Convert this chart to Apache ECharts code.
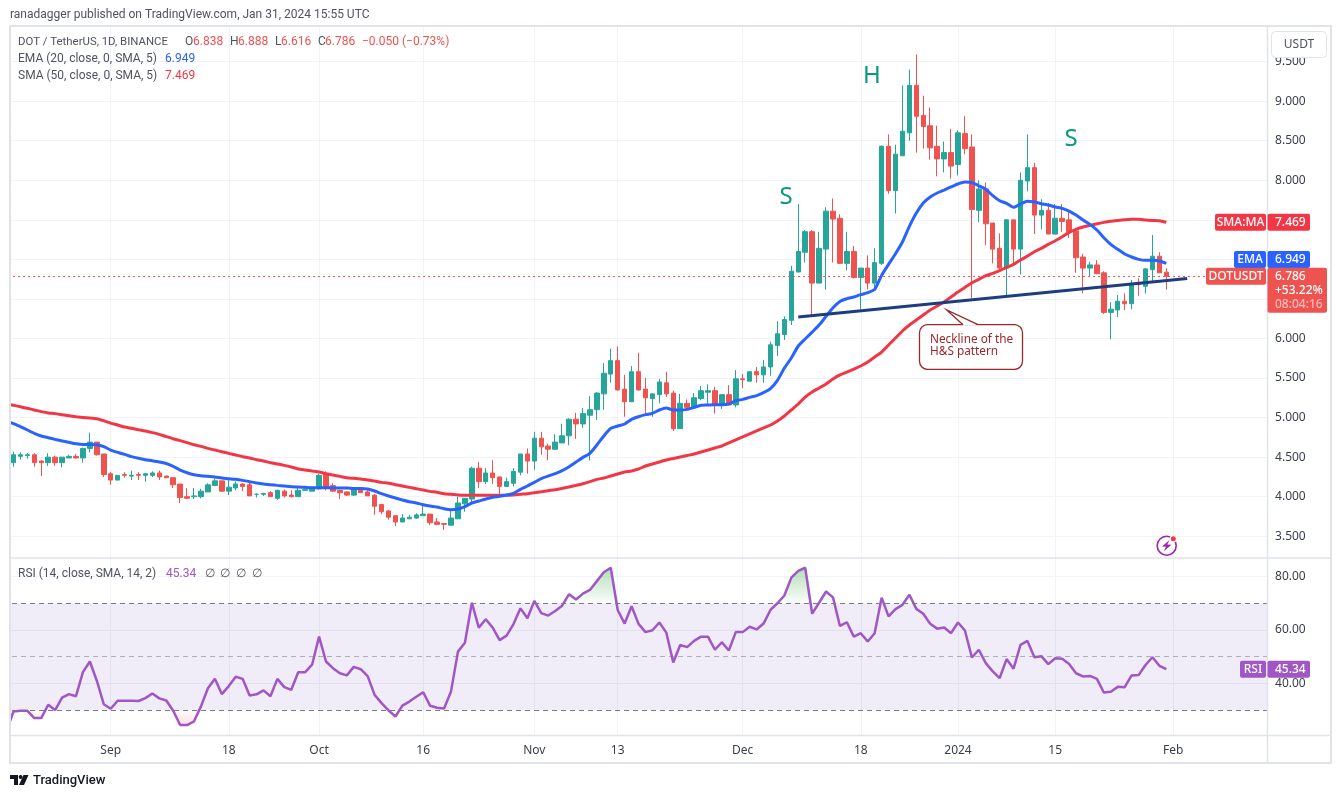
<!DOCTYPE html>
<html>
<head>
<meta charset="utf-8">
<style>html,body{margin:0;padding:0;background:#fff}#c{width:1341px;height:798px}</style>
<script src="https://cdn.jsdelivr.net/npm/echarts@6/dist/echarts.min.js"></script>
</head>
<body>
<div id="c"></div>
<script>
const priceTicks=[3.5,4,4.5,5,5.5,6,6.5,7,7.5,8,8.5,9,9.5];
const rsiTicks=[40,60,80];
const tickDates=['2023-09-01','2023-09-18','2023-10-01','2023-10-16','2023-11-01','2023-11-13','2023-12-01','2023-12-18','2024-01-01','2024-01-15','2024-02-01'];
const tickTexts=['Sep','18','Oct','16','Nov','13','Dec','18','2024','15','Feb'];
// daily values from 2023-08-17 (cut by the pane's left edge) to 2024-01-31
const open=[4.50,4.43,4.51,4.52,4.53,4.45,4.43,4.50,4.43,4.49,4.51,4.49,4.61,4.69,4.54,4.29,4.21,4.28,4.26,4.28,4.27,4.27,4.30,4.26,4.24,4.16,4.00,4.00,4.00,4.06,4.14,4.20,4.07,4.11,4.16,4.15,4.03,4.03,4.05,3.98,4.07,4.02,4.00,4.08,4.07,4.10,4.29,4.14,4.08,4.06,4.02,4.09,4.06,4.02,3.90,3.82,3.76,3.68,3.72,3.73,3.76,3.78,3.68,3.66,3.64,3.72,3.91,3.97,4.36,4.19,4.30,4.25,4.13,4.17,4.31,4.54,4.45,4.74,4.64,4.60,4.68,4.77,4.98,4.92,5.03,5.10,5.30,5.55,5.72,5.36,5.20,5.58,5.36,5.24,5.29,5.44,5.31,4.86,5.18,5.13,5.24,5.32,5.34,5.16,5.29,5.16,5.49,5.46,5.58,5.54,5.64,5.91,6.05,6.23,6.84,7.09,7.35,6.70,7.13,7.61,7.52,6.95,7.10,6.77,6.89,6.70,6.95,8.43,7.87,8.31,8.60,9.20,8.82,8.69,8.43,8.27,8.35,8.20,8.59,8.42,7.62,7.89,7.46,7.14,6.89,7.50,7.13,7.99,8.16,7.56,7.62,7.32,7.52,7.50,7.36,7.03,6.89,6.93,6.83,6.33,6.36,6.47,6.44,6.69,6.66,6.87,7.04,6.838];
const high=[4.55,4.57,4.56,4.55,4.55,4.46,4.55,4.52,4.50,4.53,4.54,4.62,4.81,4.69,4.54,4.31,4.27,4.31,4.33,4.31,4.30,4.32,4.33,4.27,4.24,4.16,4.11,4.11,4.10,4.17,4.23,4.20,4.24,4.19,4.17,4.21,4.04,4.05,4.07,4.09,4.09,4.08,4.11,4.13,4.12,4.29,4.32,4.17,4.08,4.07,4.11,4.12,4.08,4.03,3.91,3.83,3.76,3.78,3.77,3.79,3.91,3.78,3.73,3.66,3.83,4.00,3.98,4.38,4.44,4.36,4.46,4.25,4.24,4.36,4.54,4.61,4.82,4.82,4.67,4.79,4.92,4.99,5.06,5.12,5.27,5.32,5.69,5.87,5.90,5.54,5.65,5.82,5.50,5.30,5.49,5.58,5.34,5.30,5.23,5.31,5.40,5.42,5.39,5.29,5.41,5.60,5.55,5.58,5.64,5.73,5.96,6.22,6.28,6.92,7.70,7.37,7.37,7.35,7.66,7.77,7.57,7.35,7.17,6.89,7.05,7.14,8.44,8.58,8.45,9.20,9.40,9.59,9.07,8.92,8.69,8.49,8.65,8.63,8.81,8.58,8.00,7.97,7.46,7.33,7.51,7.50,8.10,8.58,8.22,7.76,7.71,7.70,7.70,7.61,7.40,7.07,6.97,6.99,6.85,6.46,6.55,6.57,6.74,6.76,6.89,7.31,7.09,6.888];
const low=[4.40,4.38,4.47,4.48,4.38,4.26,4.39,4.39,4.37,4.49,4.48,4.43,4.56,4.52,4.25,4.15,4.21,4.24,4.21,4.21,4.19,4.25,4.21,4.24,4.11,3.92,3.97,3.97,3.98,4.06,4.14,4.06,4.02,4.08,4.07,4.01,3.99,4.01,4.00,3.96,3.99,3.99,4.00,4.08,4.07,4.09,4.08,4.06,3.97,4.01,4.01,4.05,4.01,3.77,3.78,3.71,3.63,3.68,3.72,3.72,3.76,3.64,3.64,3.58,3.64,3.72,3.81,3.92,4.11,4.16,4.16,4.02,4.13,4.13,4.27,4.29,4.34,4.53,4.46,4.59,4.68,4.65,4.73,4.87,4.46,4.97,5.10,5.44,5.34,5.01,5.20,5.34,5.05,5.01,5.18,5.26,4.83,4.86,5.10,5.12,5.22,5.17,5.05,5.11,5.16,5.13,5.37,5.46,5.44,5.44,5.53,5.78,5.98,6.17,6.84,6.96,6.29,6.70,6.62,6.96,6.94,6.86,6.76,6.37,6.62,6.62,6.93,7.83,7.58,8.31,8.50,8.35,8.40,8.26,8.05,8.10,8.02,8.06,8.33,6.51,7.47,7.18,6.95,6.87,6.54,6.95,6.81,7.86,7.32,7.38,7.32,7.32,7.35,7.27,6.83,6.57,6.79,6.81,6.31,5.99,6.27,6.36,6.37,6.54,6.57,6.71,6.83,6.616];
const close=[4.43,4.53,4.53,4.53,4.43,4.43,4.50,4.43,4.50,4.51,4.49,4.61,4.69,4.53,4.28,4.21,4.27,4.27,4.27,4.27,4.29,4.30,4.25,4.24,4.15,3.99,3.98,4.01,4.07,4.15,4.20,4.07,4.12,4.16,4.13,4.01,4.03,4.04,4.00,4.08,4.01,4.00,4.08,4.09,4.12,4.27,4.12,4.07,4.05,4.02,4.09,4.05,4.01,3.88,3.81,3.74,3.68,3.73,3.74,3.77,3.78,3.67,3.65,3.65,3.73,3.92,3.98,4.36,4.19,4.30,4.24,4.13,4.19,4.32,4.54,4.45,4.74,4.63,4.60,4.69,4.77,4.98,4.92,5.05,5.10,5.31,5.56,5.72,5.35,5.20,5.58,5.35,5.25,5.30,5.45,5.30,4.86,5.18,5.13,5.25,5.34,5.34,5.16,5.29,5.16,5.49,5.48,5.58,5.54,5.64,5.92,6.06,6.24,6.85,7.10,7.35,6.70,7.14,7.61,7.51,6.95,7.10,6.77,6.89,6.70,6.96,8.43,7.87,8.33,8.62,9.20,8.81,8.68,8.41,8.27,8.35,8.18,8.60,8.40,7.63,7.89,7.45,7.13,6.89,7.50,7.13,8.00,8.16,7.56,7.62,7.32,7.52,7.48,7.35,7.02,6.89,6.93,6.82,6.33,6.37,6.47,6.44,6.68,6.68,6.88,7.04,6.83,6.786];
const ema20=[4.96,4.923,4.885,4.843,4.80,4.767,4.746,4.725,4.704,4.687,4.67,4.66,4.66,4.657,4.632,4.59,4.56,4.535,4.506,4.485,4.468,4.455,4.438,4.42,4.384,4.337,4.303,4.278,4.265,4.257,4.249,4.236,4.228,4.219,4.206,4.19,4.173,4.16,4.152,4.143,4.135,4.126,4.122,4.118,4.114,4.114,4.114,4.11,4.11,4.11,4.105,4.105,4.097,4.072,4.038,4.008,3.983,3.958,3.937,3.92,3.899,3.882,3.869,3.848,3.836,3.844,3.874,3.92,3.945,3.971,3.992,4.004,4.021,4.042,4.093,4.135,4.181,4.228,4.261,4.291,4.329,4.379,4.438,4.497,4.548,4.653,4.767,4.864,4.893,4.919,4.978,5.011,5.037,5.054,5.096,5.121,5.096,5.096,5.104,5.129,5.155,5.159,5.163,5.163,5.171,5.214,5.23,5.256,5.277,5.315,5.365,5.47,5.627,5.753,5.905,5.994,6.08,6.17,6.28,6.389,6.469,6.503,6.524,6.554,6.579,6.621,6.798,6.937,7.072,7.22,7.418,7.586,7.713,7.789,7.839,7.877,7.916,7.953,7.978,7.97,7.93,7.887,7.806,7.742,7.708,7.658,7.70,7.734,7.725,7.704,7.688,7.662,7.645,7.611,7.56,7.498,7.443,7.371,7.274,7.19,7.127,7.068,7.03,7.00,6.988,6.988,6.98,6.949];
const sma50=[5.172,5.155,5.138,5.117,5.096,5.075,5.058,5.05,5.037,5.024,5.011,5.00,4.995,4.986,4.96,4.93,4.906,4.88,4.864,4.847,4.83,4.81,4.788,4.759,4.733,4.708,4.683,4.657,4.636,4.611,4.59,4.569,4.548,4.527,4.506,4.489,4.468,4.451,4.43,4.413,4.396,4.375,4.35,4.337,4.324,4.312,4.291,4.274,4.257,4.24,4.232,4.223,4.211,4.198,4.181,4.169,4.152,4.135,4.118,4.101,4.084,4.067,4.055,4.038,4.03,4.021,4.017,4.017,4.017,4.017,4.017,4.017,4.017,4.021,4.03,4.038,4.051,4.063,4.076,4.088,4.105,4.122,4.143,4.164,4.19,4.219,4.236,4.262,4.287,4.312,4.325,4.35,4.388,4.413,4.439,4.464,4.483,4.502,4.521,4.54,4.565,4.59,4.616,4.641,4.679,4.717,4.755,4.793,4.831,4.869,4.906,4.957,5.02,5.096,5.172,5.26,5.324,5.374,5.425,5.488,5.539,5.576,5.614,5.652,5.703,5.766,5.829,5.918,6.006,6.095,6.171,6.234,6.297,6.36,6.411,6.461,6.525,6.588,6.646,6.705,6.747,6.794,6.823,6.857,6.899,6.937,6.992,7.043,7.097,7.139,7.19,7.236,7.287,7.342,7.38,7.409,7.43,7.451,7.468,7.481,7.493,7.502,7.506,7.506,7.498,7.493,7.489,7.469];
const rsi=[22,29.5,29.75,29.75,27,27,32,30,34.7,36,35.2,44.2,48.2,41,32.2,30.5,33.5,33.5,33.5,33.4,34.5,36.2,34.4,33.6,29.75,24.4,24.4,25.8,31.4,38.2,41.7,36,39,42.5,41.7,35.5,35.9,37.4,35.2,41.7,38.6,37.6,44.2,44.2,47,57.5,48.2,45.7,43.8,43,46.2,45.3,42.7,35.7,32.6,29.9,27.6,31.7,33.2,35,36.7,31.6,30.9,30.6,37,51.9,55.2,70.2,60.9,64,60.9,56.2,57.9,62.2,68.1,64.4,70.9,66.3,65.4,67.1,69.1,73.4,71.4,73.6,75,78.3,81.6,83.3,67.5,62.4,68.9,62.3,59.2,59.9,62.8,59,47.8,54.4,53.6,55.9,57.5,57.5,52.6,55.4,52.3,59.2,59.2,61.2,60.2,62.4,67.5,70,72.9,79.6,82.1,83.3,66.1,70.2,74.4,72.2,61.5,62.9,57.5,58.8,55.7,58.8,72.1,65.1,67.8,69.4,73.2,67.9,66.1,62.3,60.5,60.9,58.8,62.8,59.8,49.7,52.6,47.6,44.5,42,49.1,45.5,54.4,55.9,49.8,50.2,47.2,49.4,49.2,47.3,43.8,42.6,42.8,41.7,36.6,36.9,38.7,38.6,43,43.1,46.9,49.8,46.6,45.34];
const neckline=[[114,6.272],[170,6.759]];
const lastPrice=6.786, emaLast=6.949, smaLast=7.469, rsiLast=45.34;

// a daily category axis running from 2023-08-17 through 2024-02-14
const categories=[];
for(let i=0;i<182;i++){const d=new Date(Date.UTC(2023,7,17+i));categories.push(d.toISOString().slice(0,10));}
const candleData=open.map((o,i)=>[o,close[i],low[i],high[i]]);
const FONT='"Noto Sans"';
const TFONT='Roboto';
const GRID='#f0f3fa';
const isTick=(i,v)=>tickDates.includes(v);

const chart=echarts.init(document.getElementById('c'),null,{renderer:'canvas'});
const xBase={type:'category',data:categories,boundaryGap:true,
  axisLine:{show:false},axisTick:{show:false},
  splitLine:{show:true,alignWithLabel:true,interval:isTick,lineStyle:{color:GRID,width:1}}};
chart.setOption({
  animation:false,
  backgroundColor:'#ffffff',
  grid:[{left:3.055,top:27,width:1264,height:531.3},{left:3.055,top:558.3,width:1264,height:177.2}],
  xAxis:[
    Object.assign({},xBase,{gridIndex:0,axisLabel:{show:false}}),
    Object.assign({},xBase,{gridIndex:1,axisLabel:{show:true,interval:isTick,margin:9,fontFamily:FONT,fontSize:12,color:'#3a3e4a',
      formatter:v=>{const k=tickDates.indexOf(v);return k<0?'':tickTexts[k];}}})
  ],
  yAxis:[
    {type:'value',gridIndex:0,position:'right',min:3.221,max:9.938,scale:true,axisLine:{show:false},
     axisTick:{show:false,customValues:priceTicks},
     axisLabel:{customValues:priceTicks,margin:8,fontFamily:FONT,fontSize:12,color:'#3a3e4a',formatter:v=>v.toFixed(3)},
     splitLine:{show:true,lineStyle:{color:GRID,width:1}}},
    {type:'value',gridIndex:1,position:'right',min:20.49,max:86.84,scale:true,axisLine:{show:false},
     axisTick:{show:false,customValues:rsiTicks},
     axisLabel:{customValues:rsiTicks,margin:8,padding:[2,0,0,0],fontFamily:FONT,fontSize:12,color:'#3a3e4a',formatter:v=>v.toFixed(2)},
     splitLine:{show:true,lineStyle:{color:GRID,width:1}}}
  ],
  series:[
    {name:'DOTUSDT',type:'candlestick',xAxisIndex:0,yAxisIndex:0,data:candleData,barWidth:5,z:2,
     itemStyle:{color:'#26a69a',color0:'#ef5350',borderColor:'#26a69a',borderColor0:'#ef5350',borderWidth:1},
     markLine:{silent:true,symbol:'none',label:{show:false},animation:false,
       data:[{yAxis:lastPrice,lineStyle:{color:'#ef5350',type:[2,3],width:1,opacity:1}}]}},
    {name:'SMA50',type:'line',xAxisIndex:0,yAxisIndex:0,data:sma50,showSymbol:false,smooth:0.2,z:3,
     lineStyle:{color:'#f23645',width:3}},
    {name:'EMA20',type:'line',xAxisIndex:0,yAxisIndex:0,data:ema20,showSymbol:false,smooth:0.2,z:4,
     lineStyle:{color:'#2962ff',width:3}},
    {name:'Neckline',type:'line',xAxisIndex:0,yAxisIndex:0,data:neckline,showSymbol:false,z:5,
     lineStyle:{color:'#1c3d80',width:3}},
    {name:'RSI over',type:'line',xAxisIndex:1,yAxisIndex:1,data:rsi.map(v=>Math.max(v,70)),showSymbol:false,z:1,
     lineStyle:{width:0},areaStyle:{origin:70,opacity:1,color:{type:'linear',x:0,y:0,x2:0,y2:1,colorStops:[{offset:0,color:'rgba(76,175,80,0.42)'},{offset:1,color:'rgba(76,175,80,0.02)'}]}}},
    {name:'RSI under',type:'line',xAxisIndex:1,yAxisIndex:1,data:rsi.map(v=>Math.min(v,30)),showSymbol:false,z:1,
     lineStyle:{width:0},areaStyle:{origin:30,opacity:1,color:{type:'linear',x:0,y:0,x2:0,y2:1,colorStops:[{offset:0,color:'rgba(255,82,82,0.02)'},{offset:1,color:'rgba(255,82,82,0.25)'}]}}},
    {name:'RSI',type:'line',xAxisIndex:1,yAxisIndex:1,data:rsi,showSymbol:false,z:4,
     lineStyle:{color:'#a056c4',width:2.5},
     markArea:{silent:true,itemStyle:{color:'rgba(126,87,194,0.115)'},data:[[{yAxis:30},{yAxis:70}]]},
     markLine:{silent:true,symbol:'none',label:{show:false},
       data:[
        {yAxis:70,lineStyle:{color:'#787b86',type:[5,4],width:1}},
        {yAxis:50,lineStyle:{color:'rgba(120,123,134,0.55)',type:[5,4],width:1}},
        {yAxis:30,lineStyle:{color:'#787b86',type:[5,4],width:1}}]}}
  ]
});

// overlay chrome: frame, text legend, annotations and price tags
const py=v=>chart.convertToPixel({yAxisIndex:0},v);
const ry=v=>chart.convertToPixel({yAxisIndex:1},v);
const Z=50;
const txt=(x,y,text,fill,size,extra)=>({type:'text',z:Z,x,y,silent:true,
  style:{text,fill,font:(extra&&extra.weight?extra.weight+' ':'')+size+'px '+((extra&&extra.family)||FONT),align:(extra&&extra.align)||'left',verticalAlign:'middle'}});
const leg=(x,y,text,fill,size)=>txt(x,y,text,fill,size||12,{family:TFONT});
const rect=(x,y,w,h,fill,r,stroke,lw)=>({type:'rect',z:Z,silent:true,shape:{x,y,width:w,height:h,r:r||0},style:{fill:fill,stroke:stroke||null,lineWidth:lw||0}});
const line=(x1,y1,x2,y2,c,w)=>({type:'line',z:Z,silent:true,shape:{x1,y1,x2,y2},style:{stroke:c,lineWidth:w}});
const BORDER='#e0e3eb', GREY='#50535e', RED='#ef5350', TEAL='#089981', CAL='#98282b';
const g=[];
// white mask left of the pane, then the page frame
g.push(rect(0,26,10,737,'#ffffff'));
g.push(rect(10,26,1321,737,null,0,BORDER,2));
g.push(line(1267.5,26,1267.5,763,BORDER,1.5));
g.push(line(10,558,1331,558,BORDER,1.5));
g.push(line(10,735.5,1331,735.5,BORDER,1.5));
// header
g.push(leg(10,15,'ranadagger published on TradingView.com, Jan 31, 2024 15:55 UTC',GREY));
// legend rows
g.push(leg(18,42,'DOT / TetherUS, 1D, BINANCE',GREY,11.4));
[[185,'O',193,'6.838'],[230,'H',238,'6.888'],[275,'L',281,'6.616'],[318,'C',325,'6.786']].forEach(a=>{
  g.push(leg(a[0],42,a[1],GREY));g.push(leg(a[2],42,a[3],RED));});
g.push(leg(362,42,'−0.050 (−0.73%)',RED));
g.push(leg(18,59,'EMA (20, close, 0, SMA, 5)',GREY));
g.push(leg(165,59,'6.949','#2962ff'));
g.push(leg(18,76,'SMA (50, close, 0, SMA, 5)',GREY));
g.push(leg(165,76,'7.469','#f23645'));
g.push(leg(18,574,'RSI (14, close, SMA, 14, 2)',GREY));
g.push(leg(166,574,'45.34','#a056c4'));
[205,220,236,252].forEach(x=>g.push(txt(x,574,'∅',GREY,12)));
// H&S letters
g.push(txt(872,76,'H',TEAL,24,{align:'center'}));
g.push(txt(786,197,'S',TEAL,24,{align:'center'}));
g.push(txt(1071,139,'S',TEAL,24,{align:'center'}));
// neckline callout
g.push(rect(919.5,324.7,103,44.6,'#ffffff',8,CAL,1.3));
g.push({type:'polygon',z:Z,silent:true,shape:{points:[[963,325.6],[946.7,310],[978,325.6]]},style:{fill:'#ffffff'}});
g.push({type:'polyline',z:Z,silent:true,shape:{points:[[963,324.7],[946.7,310],[978,324.7]]},style:{stroke:CAL,lineWidth:1.3,fill:null}});
g.push(txt(930,340,'Neckline of the',CAL,11.8));
g.push(txt(930,352,'H&S pattern',CAL,11.8));
// price-scale button
g.push(rect(1271.5,31.5,55,26,'#ffffff',4,BORDER,1));
g.push(txt(1299,44.5,'USDT',GREY,12,{align:'center'}));
// tags
const tag=(x1,w1,text1,x2,w2,text2,cy,color)=>{
  g.push(rect(x1,cy-8.5,w1,17,color,2));
  g.push(txt(x1+w1/2,cy,text1,'#ffffff',12,{align:'center',weight:500}));
  g.push(rect(x2,cy-8.5,w2,17,color,2));
  g.push(txt(1275,cy,text2,'#ffffff',12,{weight:500}));
};
tag(1215,51,'SMA:MA',1267.5,42.5,smaLast.toFixed(3),py(smaLast),'#f23645');
// the EMA tag is nudged up so that it clears the last-price tag
tag(1234,32,'EMA',1267.5,42.5,emaLast.toFixed(3),py(emaLast)-3.9,'#2962ff');
const cy=py(lastPrice);
g.push(rect(1206,cy-8.5,60,17,RED,2));
g.push(txt(1236,cy,'DOTUSDT','#ffffff',12,{align:'center',weight:500}));
g.push(rect(1267.5,cy-8.5,59.5,45,RED,2));
g.push(txt(1275,cy,'6.786','#ffffff',12,{weight:500}));
g.push(txt(1275,cy+14,'+53.22%','#ffffff',12,{weight:500}));
g.push(txt(1275,cy+28.5,'08:04:16','rgba(255,255,255,0.6)',12,{weight:500}));
tag(1240,26,'RSI',1267.5,42.5,rsiLast.toFixed(2),ry(rsiLast),'#a056c4');
// lightning icon
g.push({type:'circle',z:Z,silent:true,shape:{cx:1166.7,cy:545.7,r:9.5},style:{fill:'#ffffff',stroke:'#9c27b0',lineWidth:1.6}});
g.push({type:'polygon',z:Z,silent:true,shape:{points:[[1169.5,540],[1162,546.5],[1166,546.8],[1163.5,551.5],[1171.5,544.8],[1167.2,544.5]]},style:{fill:'#9c27b0'}});
g.push({type:'circle',z:Z,silent:true,shape:{cx:1173.3,cy:538.7,r:3.6},style:{fill:'#ffffff'}});
g.push({type:'circle',z:Z,silent:true,shape:{cx:1173.3,cy:538.7,r:2.5},style:{fill:'#f23645'}});
// TradingView logo
g.push({type:'polygon',z:Z,silent:true,shape:{points:[[10,775],[18,775],[18,785],[14,785],[14,779],[10,779]]},style:{fill:'#131722'}});
g.push({type:'circle',z:Z,silent:true,shape:{cx:20.6,cy:777,r:2},style:{fill:'#131722'}});
g.push({type:'polygon',z:Z,silent:true,shape:{points:[[23.5,775],[28.5,775],[24,785],[19,785]]},style:{fill:'#131722'}});
g.push(txt(33,780.5,'TradingView','#131722',13,{weight:500,family:TFONT}));
chart.setOption({graphic:{elements:g}});
</script>
</body>
</html>
